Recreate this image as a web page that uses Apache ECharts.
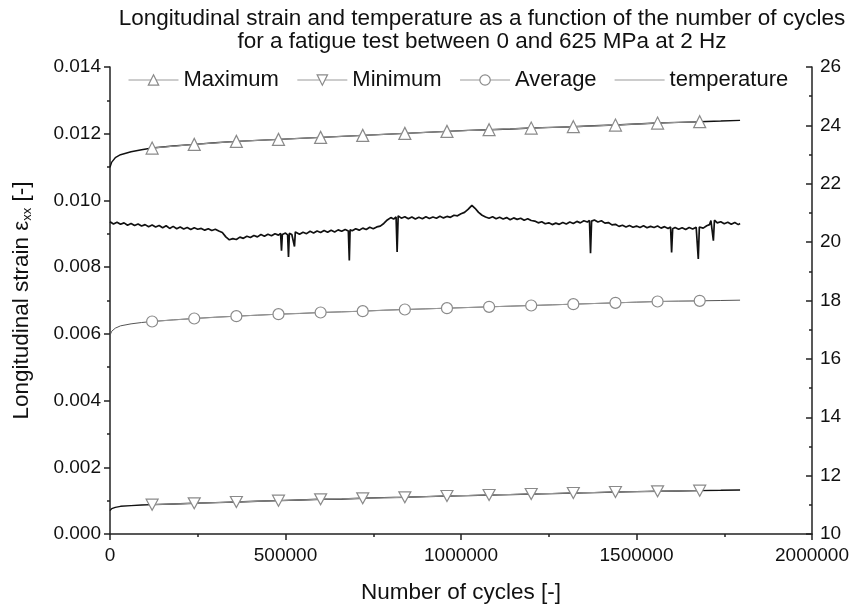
<!DOCTYPE html>
<html><head><meta charset="utf-8">
<script src="https://cdn.jsdelivr.net/npm/echarts@6/dist/echarts.min.js"></script>
<style>html,body{margin:0;padding:0;background:#fff}#c{width:852px;height:609px}</style>
</head><body><div id="c"></div>
<script>
// ---- data ----
const strainCycles = [0,5000,15000,30000,60000,90000,120000,180000,240000,300000,360000,420000,480000,540000,600000,660000,720000,780000,840000,900000,960000,1020000,1080000,1140000,1200000,1260000,1320000,1380000,1440000,1500000,1560000,1620000,1680000,1740000,1795000];
const maxStrain = [0.01099,0.01115,0.01128,0.01137,0.01146,0.01152,0.01157,0.01163,0.01168,0.01173,0.01177,0.01180,0.01183,0.01186,0.01189,0.01192,0.01195,0.01198,0.01201,0.01204,0.01207,0.01210,0.01212,0.01214,0.01217,0.01219,0.01221,0.01224,0.01226,0.01229,0.01232,0.01234,0.01236,0.01238,0.01240];
const avgStrain = [0.00596,0.00608,0.00617,0.00624,0.00630,0.00634,0.00637,0.00642,0.00646,0.00650,0.00653,0.00656,0.00659,0.00661,0.00664,0.00666,0.00668,0.00671,0.00673,0.00675,0.00677,0.00679,0.00681,0.00683,0.00685,0.00687,0.00689,0.00691,0.00693,0.00695,0.00697,0.00698,0.00699,0.00700,0.00701];
const minStrain = [0.00070,0.00076,0.00080,0.00083,0.00085,0.00087,0.00088,0.00090,0.00092,0.00094,0.00096,0.00098,0.00100,0.00102,0.00104,0.00105,0.00107,0.00109,0.00110,0.00112,0.00114,0.00115,0.00117,0.00118,0.00120,0.00121,0.00123,0.00124,0.00126,0.00127,0.00128,0.00129,0.00130,0.00131,0.00132];

const markerCycles = [120000,240000,360000,480000,600000,720000,840000,960000,1080000,1200000,1320000,1440000,1560000,1680000];
const maxMarkers = [0.01157,0.01168,0.01177,0.01183,0.01189,0.01195,0.01201,0.01207,0.01212,0.01217,0.01221,0.01226,0.01232,0.01236];
const avgMarkers = [0.00637,0.00646,0.00653,0.00659,0.00664,0.00668,0.00673,0.00677,0.00681,0.00685,0.00689,0.00693,0.00697,0.00699];
const minMarkers = [0.00088,0.00092,0.00096,0.00100,0.00104,0.00107,0.00110,0.00114,0.00117,0.00120,0.00123,0.00126,0.00128,0.00130];

const temperature = [
[0,20.70],[10000,20.62],[20000,20.68],[30000,20.61],[40000,20.66],[50000,20.58],[60000,20.64],[70000,20.57],[80000,20.62],[90000,20.55],
[100000,20.60],[110000,20.53],[120000,20.59],[130000,20.52],[140000,20.57],[150000,20.49],[160000,20.56],[170000,20.47],[180000,20.54],[190000,20.46],
[200000,20.52],[210000,20.45],[220000,20.50],[230000,20.43],[240000,20.49],[250000,20.44],[260000,20.47],[270000,20.41],[280000,20.46],[290000,20.40],
[300000,20.44],[310000,20.38],[320000,20.33],[330000,20.18],[340000,20.08],[350000,20.12],[360000,20.09],[370000,20.17],[380000,20.13],[390000,20.20],
[400000,20.16],[410000,20.23],[420000,20.18],[430000,20.26],[440000,20.20],[450000,20.27],[460000,20.22],[470000,20.29],[480000,20.24],[486000,20.30],
[488600,19.71],[491000,20.26],[500000,20.31],[506000,20.25],[508500,19.49],[511000,20.30],[518000,20.26],[523000,20.30],[525600,19.85],[528000,20.35],
[540000,20.27],[550000,20.34],[560000,20.29],[570000,20.37],[580000,20.31],[590000,20.38],[600000,20.33],[610000,20.40],[620000,20.34],[630000,20.41],
[640000,20.35],[650000,20.42],[660000,20.37],[670000,20.43],[679000,20.38],[681800,19.37],[684000,20.42],[690000,20.39],[700000,20.46],[710000,20.41],
[720000,20.48],[730000,20.43],[740000,20.51],[750000,20.46],[760000,20.52],[770000,20.55],[780000,20.64],[790000,20.76],[800000,20.84],[808000,20.79],
[815000,20.86],[818000,19.66],[821000,20.90],[830000,20.82],[840000,20.87],[850000,20.80],[860000,20.86],[870000,20.79],[880000,20.85],[890000,20.80],
[900000,20.87],[910000,20.81],[920000,20.86],[930000,20.82],[940000,20.89],[950000,20.83],[960000,20.88],[970000,20.85],[980000,20.92],[990000,20.90],
[1000000,20.97],[1010000,21.02],[1020000,21.12],[1031000,21.26],[1040000,21.16],[1050000,21.02],[1060000,20.92],[1070000,20.86],[1080000,20.82],[1090000,20.87],
[1100000,20.80],[1110000,20.85],[1120000,20.79],[1130000,20.84],[1140000,20.77],[1150000,20.83],[1160000,20.78],[1170000,20.82],[1180000,20.75],[1190000,20.80],
[1200000,20.74],[1210000,20.72],[1220000,20.66],[1230000,20.70],[1240000,20.63],[1250000,20.66],[1260000,20.60],[1270000,20.65],[1280000,20.61],[1290000,20.67],
[1300000,20.62],[1310000,20.69],[1320000,20.64],[1330000,20.71],[1340000,20.66],[1350000,20.73],[1360000,20.69],[1366000,20.74],[1369000,19.62],[1372000,20.72],
[1380000,20.76],[1390000,20.69],[1400000,20.73],[1410000,20.65],[1420000,20.67],[1430000,20.59],[1440000,20.61],[1450000,20.54],[1460000,20.58],[1470000,20.52],
[1480000,20.57],[1490000,20.51],[1500000,20.55],[1510000,20.50],[1520000,20.56],[1530000,20.49],[1540000,20.54],[1550000,20.50],[1560000,20.55],[1570000,20.48],
[1580000,20.53],[1590000,20.47],[1597000,20.52],[1600000,19.65],[1603000,20.46],[1610000,20.50],[1620000,20.44],[1630000,20.49],[1640000,20.43],[1650000,20.50],
[1660000,20.45],[1670000,20.51],[1673000,20.46],[1676000,19.42],[1679000,20.52],[1690000,20.48],[1700000,20.56],[1708000,20.60],[1712000,20.74],[1716000,20.68],
[1719000,20.05],[1722000,20.75],[1730000,20.66],[1740000,20.70],[1750000,20.63],[1760000,20.68],[1770000,20.61],[1780000,20.67],[1790000,20.60],[1795000,20.64]
];

const legendNames = ['Maximum','Minimum','Average','temperature'];

// ---- chart ----
const zip = (xs, ys) => xs.map((x, i) => [x, ys[i]]);
const FONT = 'Liberation Sans, Arial, sans-serif';
const chart = echarts.init(document.getElementById('c'), null, {renderer: 'canvas'});
const markerStyle = {color: '#fff', borderColor: '#8a8a8a', borderWidth: 1.2};
const greyLine = {color: '#9a9a9a', width: 1};
const blackLine = {color: '#111', width: 1.4};
const AX = '#222';

chart.setOption({
  animation: false,
  backgroundColor: '#fff',
  textStyle: {fontFamily: FONT},
  title: {
    text: 'Longitudinal strain and temperature as a function of the number of cycles\nfor a fatigue test between 0 and 625 MPa at 2 Hz',
    left: 477, top: 2, textAlign: 'center',
    textStyle: {fontFamily: FONT, fontSize: 22.5, fontWeight: 'normal', color: '#111', lineHeight: 23}
  },
  legend: {
    data: [
      {name: legendNames[0]}, {name: legendNames[1]}, {name: legendNames[2]},
      {name: legendNames[3], icon: 'path://M0,0 L50,0 L50,1 L0,1 Z', itemStyle: {color: '#9a9a9a', borderWidth: 0}}
    ],
    left: 123, top: 64,
    itemWidth: 50, itemHeight: 13, itemGap: 18,
    textStyle: {fontFamily: FONT, fontSize: 22, color: '#111'},
    lineStyle: {color: '#9a9a9a', width: 1},
    itemStyle: {color: '#fff', borderColor: '#8a8a8a', borderWidth: 1.2}
  },
  grid: {left: 110, right: 38, top: 67, bottom: 72},
  xAxis: {
    type: 'value', min: 0, max: 2000000, interval: 500000,
    name: 'Number of cycles [-]', nameLocation: 'middle', nameGap: 47,
    nameTextStyle: {fontFamily: FONT, fontSize: 22.5, color: '#111'},
    axisLine: {show: true, lineStyle: {color: AX, width: 1.5}},
    axisTick: {show: true, inside: false, length: 6, lineStyle: {color: AX, width: 1.5}},
    minorTick: {show: true, splitNumber: 2, length: 3, lineStyle: {color: AX, width: 1.5}},
    splitLine: {show: false},
    axisLabel: {fontFamily: FONT, fontSize: 19, color: '#111', margin: 12, formatter: v => String(v)}
  },
  yAxis: [{
    type: 'value', min: 0, max: 0.014, interval: 0.002, position: 'left',
    name: 'Longitudinal strain ε{s|xx} [-]', nameLocation: 'middle', nameGap: 76,
    nameTextStyle: {fontFamily: FONT, fontSize: 22.5, color: '#111',
      rich: {s: {fontFamily: FONT, fontSize: 13, color: '#111', padding: [12, 0, 0, 0]}}},
    axisLine: {show: true, lineStyle: {color: AX, width: 1.5}},
    axisTick: {show: true, inside: false, length: 6, lineStyle: {color: AX, width: 1.5}},
    minorTick: {show: true, splitNumber: 2, length: 3, lineStyle: {color: AX, width: 1.5}},
    splitLine: {show: false},
    axisLabel: {fontFamily: FONT, fontSize: 19, color: '#111', margin: 9, formatter: v => v.toFixed(3)}
  }, {
    type: 'value', min: 10, max: 26, interval: 2, position: 'right',
    axisLine: {show: true, lineStyle: {color: AX, width: 1.5}},
    axisTick: {show: true, inside: true, length: 6, lineStyle: {color: AX, width: 1.5}},
    minorTick: {show: true, splitNumber: 2, length: 3, lineStyle: {color: AX, width: 1.5}},
    splitLine: {show: false},
    axisLabel: {fontFamily: FONT, fontSize: 19, color: '#111', margin: 8}
  }],
  series: [
    {type: 'line', name: 'maxData', yAxisIndex: 0, data: zip(strainCycles, maxStrain), showSymbol: false, symbol: 'none', lineStyle: blackLine, z: 2, silent: true},
    {type: 'line', name: 'avgData', yAxisIndex: 0, data: zip(strainCycles, avgStrain), showSymbol: false, symbol: 'none', lineStyle: {color: '#555', width: 1}, z: 2, silent: true},
    {type: 'line', name: 'minData', yAxisIndex: 0, data: zip(strainCycles, minStrain), showSymbol: false, symbol: 'none', lineStyle: blackLine, z: 2, silent: true},
    {type: 'line', name: 'Maximum', yAxisIndex: 0, data: zip(markerCycles, maxMarkers), symbol: 'triangle', symbolSize: 12, showAllSymbol: true, lineStyle: greyLine, itemStyle: markerStyle, z: 3},
    {type: 'line', name: 'Minimum', yAxisIndex: 0, data: zip(markerCycles, minMarkers), symbol: 'path://M0,0 L10,0 L5,9 Z', symbolSize: [12, 11], showAllSymbol: true, lineStyle: greyLine, itemStyle: markerStyle, z: 3},
    {type: 'line', name: 'Average', yAxisIndex: 0, data: zip(markerCycles, avgMarkers), symbol: 'circle', symbolSize: 11, showAllSymbol: true, lineStyle: greyLine, itemStyle: markerStyle, z: 3},
    {type: 'line', name: 'temperature', yAxisIndex: 1, data: temperature, showSymbol: false, symbol: 'none', lineStyle: {color: '#111', width: 1.7}, z: 2}
  ]
});
</script>
</body></html>
